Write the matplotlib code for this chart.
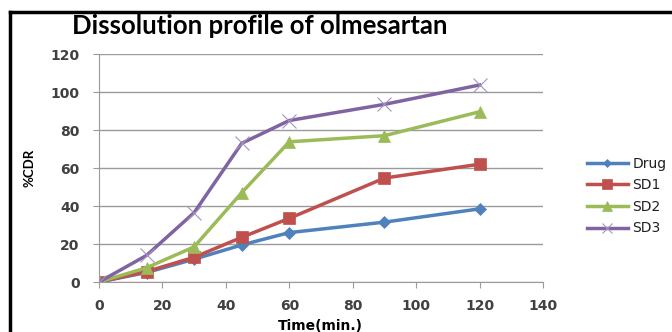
import numpy as np
import matplotlib
matplotlib.use("Agg")
import matplotlib.pyplot as plt
from matplotlib.lines import Line2D

# datos
tiempo = [0, 15, 30, 45, 60, 90, 120]
drug = [0, 5, 12, 19.5, 26, 31.5, 38.5]
sd1 = [0, 5.5, 13, 23.5, 33.5, 54.7, 62]
sd2 = [0, 7.5, 18.5, 47, 73.8, 77, 89.6]
sd3 = [0, 14, 36.5, 73, 85, 93.5, 103.7]

series = ["Drug", "SD1", "SD2", "SD3"]
colores = ["#4F81BD", "#C0504D", "#9BBB59", "#8064A2"]
marcadores = ["D", "s", "^", "x"]
tamanos = [6, 9, 9, 10]

fig = plt.figure(figsize=(6.72, 3.32), dpi=100)
ax = fig.add_axes([0.1473, 0.1506, 0.6607, 0.6867])

for datos, nombre, c, m, ms in zip([drug, sd1, sd2, sd3], series, colores, marcadores, tamanos):
    if m == "x":
        ax.plot(tiempo, datos, color=c, marker=m, markersize=ms, linewidth=2.5,
                label=nombre, markeredgewidth=0.8, markeredgecolor="#A593C2")
    else:
        ax.plot(tiempo, datos, color=c, marker=m, markersize=ms, linewidth=2.5,
                label=nombre, markeredgewidth=0.5)

ax.set_xlim(0, 140)
ax.set_ylim(0, 120)
ax.set_xticks(np.arange(0, 141, 20))
ax.set_yticks(np.arange(0, 121, 20))
ax.yaxis.grid(True, color="#9a9a9a", linewidth=1)
ax.set_axisbelow(True)
for lado in ["top", "right"]:
    ax.spines[lado].set_visible(False)
for lado in ["left", "bottom"]:
    ax.spines[lado].set_color("#9a9a9a")
ax.tick_params(axis="both", colors="#9a9a9a", length=4, labelcolor="#404040",
               labelsize=10)
ax.tick_params(axis="x", pad=8)
ax.tick_params(axis="y", pad=10)
for t in ax.get_xticklabels() + ax.get_yticklabels():
    t.set_fontweight("bold")

fig.text(0.387, 0.922, "Dissolution profile of olmesartan", ha="center", va="center",
         fontsize=18.5, fontweight="bold", family="Lato")
fig.text(0.044, 0.494, "%CDR", rotation=90, ha="center", va="center",
         fontsize=9.5, fontweight="bold", family="Lato")
fig.text(0.477, 0.017, "Time(min.)", ha="center", va="center",
         fontsize=10, fontweight="bold")

leg = ax.legend(loc="upper left", bbox_to_anchor=(1.07, 0.605), frameon=False,
                fontsize=10, handlelength=3.0, labelspacing=0.55, handletextpad=0.3,
                markerscale=0.75)
for t in leg.get_texts():
    t.set_color("#202020")

# marco negro
fig.add_artist(Line2D([0.0149, 0.0149], [0, 0.964], color="black", linewidth=2.5,
                      transform=fig.transFigure))
fig.add_artist(Line2D([0.0149, 1.0], [0.964, 0.964], color="black", linewidth=2.5,
                      transform=fig.transFigure))

fig.savefig("out.png", dpi=100)
